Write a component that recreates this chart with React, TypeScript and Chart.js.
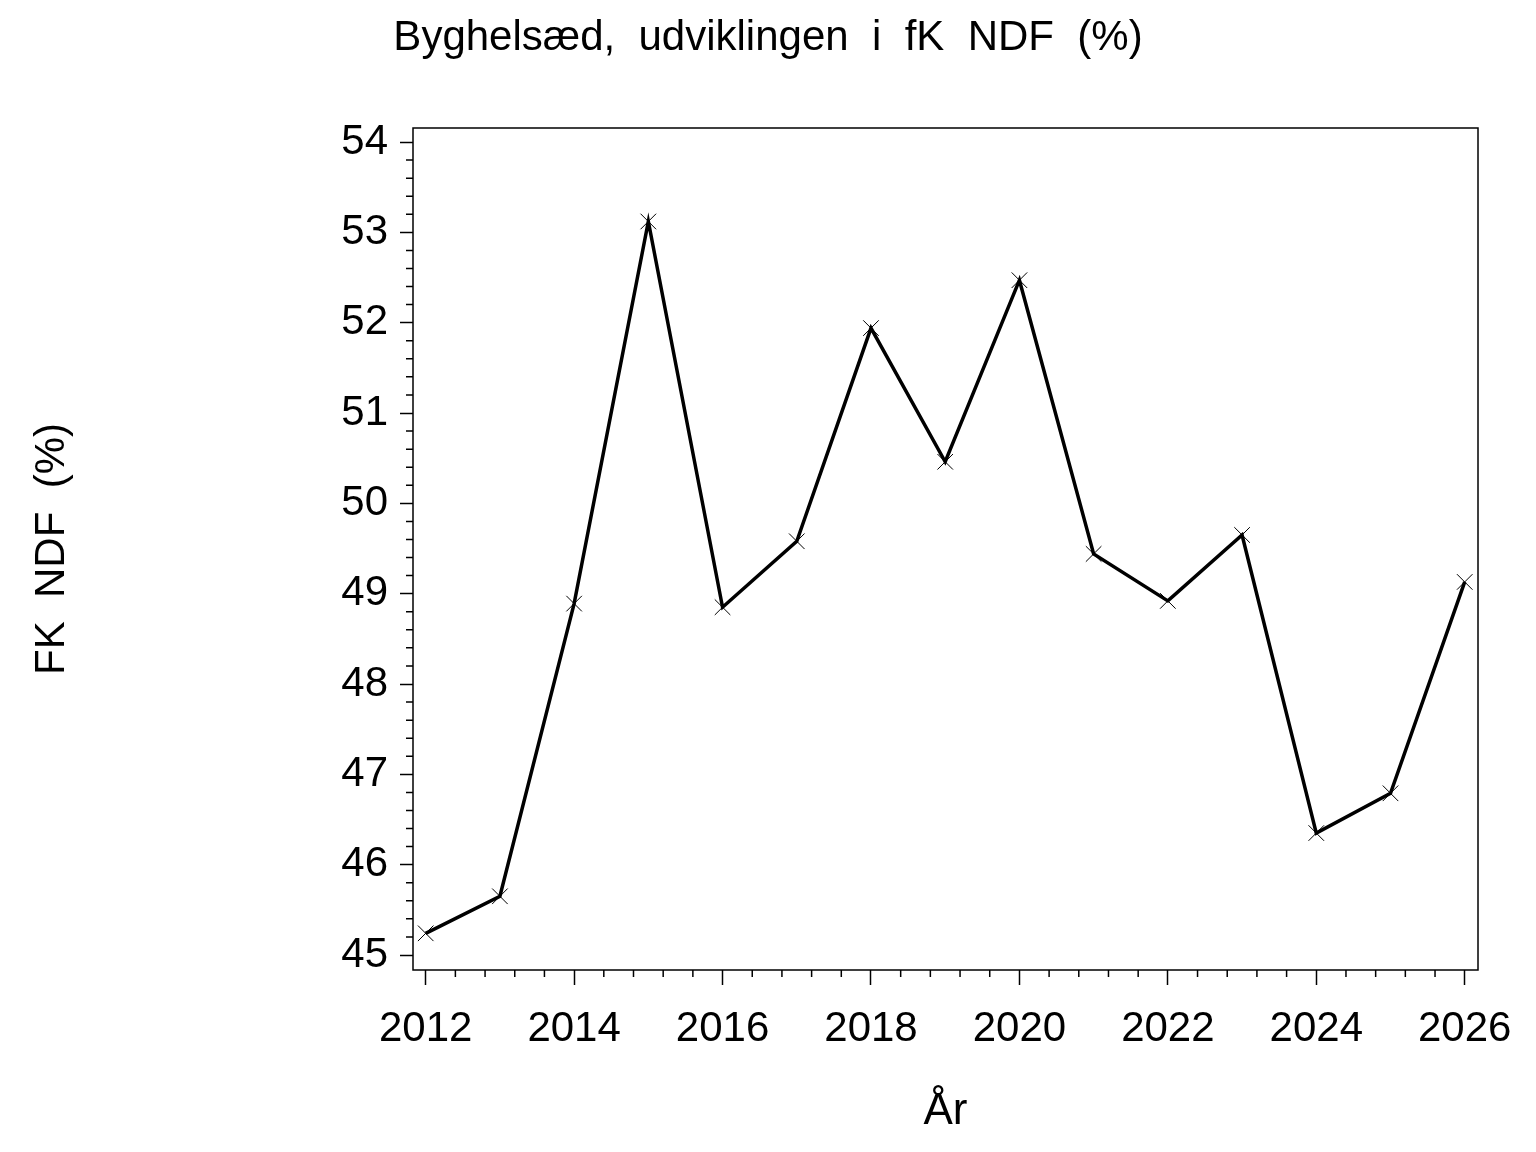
import React, { useEffect, useRef } from "react";
import { Chart, registerables } from "chart.js";

Chart.register(...registerables);

// ---- data ----
const years = [2012, 2013, 2014, 2015, 2016, 2017, 2018, 2019, 2020, 2021, 2022, 2023, 2024, 2025, 2026];
const ndfValues = [45.24, 45.65, 48.89, 53.12, 48.85, 49.58, 51.94, 50.46, 52.47, 49.44, 48.92, 49.65, 46.35, 46.79, 49.13];
const xTickValues = [2012, 2014, 2016, 2018, 2020, 2022, 2024, 2026];
const yTickValues = [45, 46, 47, 48, 49, 50, 51, 52, 53, 54];

const titleText = "Byghelsæd,  udviklingen  i  fK  NDF  (%)";
const xTitleText = "År";
const yTitleText = "FK  NDF  (%)";

const X_MIN = 2011.829;
const X_MAX = 2026.179;
const Y_MIN = 44.834;
const Y_MAX = 54.155;
const X_MINOR_PER_MAJOR = 4;
const Y_MINOR_PER_MAJOR = 4;

const FONT = "'Liberation Sans', Arial, Helvetica, sans-serif";

const framePlugin = {
  id: "frameAndMinorTicks",
  afterLayout(chart: any) {
    // centre the title on the whole canvas, as in the reference
    const tb = chart.titleBlock;
    if (tb) {
      tb.left = 0;
      tb.right = chart.width;
      tb.width = chart.width;
    }
  },
  afterDraw(chart: any) {
    const { ctx, chartArea } = chart;
    const { left, right, top, bottom } = chartArea;
    const xs = chart.scales.x;
    const ys = chart.scales.y;
    ctx.save();
    ctx.strokeStyle = "#000";
    ctx.lineWidth = 1.5;
    ctx.strokeRect(left, top, right - left, bottom - top);
    ctx.beginPath();
    for (let i = 0; i < xTickValues.length - 1; i++) {
      const a = xTickValues[i];
      const b = xTickValues[i + 1];
      for (let k = 1; k <= X_MINOR_PER_MAJOR; k++) {
        const v = a + ((b - a) * k) / (X_MINOR_PER_MAJOR + 1);
        const px = xs.getPixelForValue(v);
        ctx.moveTo(px, bottom);
        ctx.lineTo(px, bottom + 7);
      }
    }
    for (let i = 0; i < yTickValues.length - 1; i++) {
      const a = yTickValues[i];
      const b = yTickValues[i + 1];
      for (let k = 1; k <= Y_MINOR_PER_MAJOR; k++) {
        const v = a + ((b - a) * k) / (Y_MINOR_PER_MAJOR + 1);
        const py = ys.getPixelForValue(v);
        ctx.moveTo(left, py);
        ctx.lineTo(left - 7, py);
      }
    }
    ctx.stroke();
    ctx.restore();
  },
};

export default function App() {
  const canvasRef = useRef<HTMLCanvasElement | null>(null);

  useEffect(() => {
    if (!canvasRef.current) return;
    const chart = new Chart(canvasRef.current, {
      type: "line",
      data: {
        datasets: [
          {
            data: years.map((yr, i) => ({ x: yr, y: ndfValues[i] })),
            borderColor: "#000",
            borderWidth: 3.5,
            pointStyle: "crossRot",
            pointRadius: 11,
            pointHoverRadius: 11,
            pointBorderWidth: 1,
            pointBorderColor: "#000",
            pointBackgroundColor: "#000",
            tension: 0,
            clip: false as any,
          },
        ],
      },
      plugins: [framePlugin],
      options: {
        animation: false,
        responsive: false,
        devicePixelRatio: 1,
        events: [],
        layout: { padding: { left: 0, right: 58, top: 0, bottom: 0 } },
        plugins: {
          legend: { display: false },
          tooltip: { enabled: false },
          title: {
            display: true,
            text: titleText,
            color: "#000",
            font: { family: FONT, size: 42, weight: "normal" as any },
            padding: { top: 13, bottom: 64.6 },
          },
        },
        scales: {
          x: {
            type: "linear",
            min: X_MIN,
            max: X_MAX,
            afterBuildTicks(scale: any) {
              scale.ticks = xTickValues.map((v) => ({ value: v }));
            },
            afterFit(scale: any) {
              scale.height = 182;
            },
            ticks: {
              color: "#000",
              font: { family: FONT, size: 42 },
              padding: 19,
              maxRotation: 0,
              autoSkip: false,
              callback: (v: any) => String(v),
            },
            grid: {
              display: true,
              drawOnChartArea: false,
              drawTicks: true,
              tickLength: 15,
              tickWidth: 1.5,
              tickColor: "#000",
            },
            border: { display: false },
            title: {
              display: true,
              text: xTitleText,
              color: "#000",
              font: { family: FONT, size: 44 },
              padding: { top: 0, bottom: 14 },
            },
          },
          y: {
            type: "linear",
            min: Y_MIN,
            max: Y_MAX,
            afterBuildTicks(scale: any) {
              scale.ticks = yTickValues.map((v) => ({ value: v }));
            },
            afterFit(scale: any) {
              scale.width = 413;
            },
            ticks: {
              color: "#000",
              font: { family: FONT, size: 42 },
              padding: 12,
              autoSkip: false,
              callback: (v: any) => String(v),
            },
            grid: {
              display: true,
              drawOnChartArea: false,
              drawTicks: true,
              tickLength: 13,
              tickWidth: 1.5,
              tickColor: "#000",
            },
            border: { display: false },
            title: {
              display: true,
              text: yTitleText,
              color: "#000",
              font: { family: FONT, size: 42 },
              padding: { top: 27, bottom: 0 },
            },
          },
        },
      },
    });
    return () => chart.destroy();
  }, []);

  return (
    <div style={{ position: "absolute", left: 0, top: 0, width: 1536, height: 1152, background: "#fff" }}>
      <canvas ref={canvasRef} width={1536} height={1152} style={{ display: "block", width: 1536, height: 1152 }} />
    </div>
  );
}
